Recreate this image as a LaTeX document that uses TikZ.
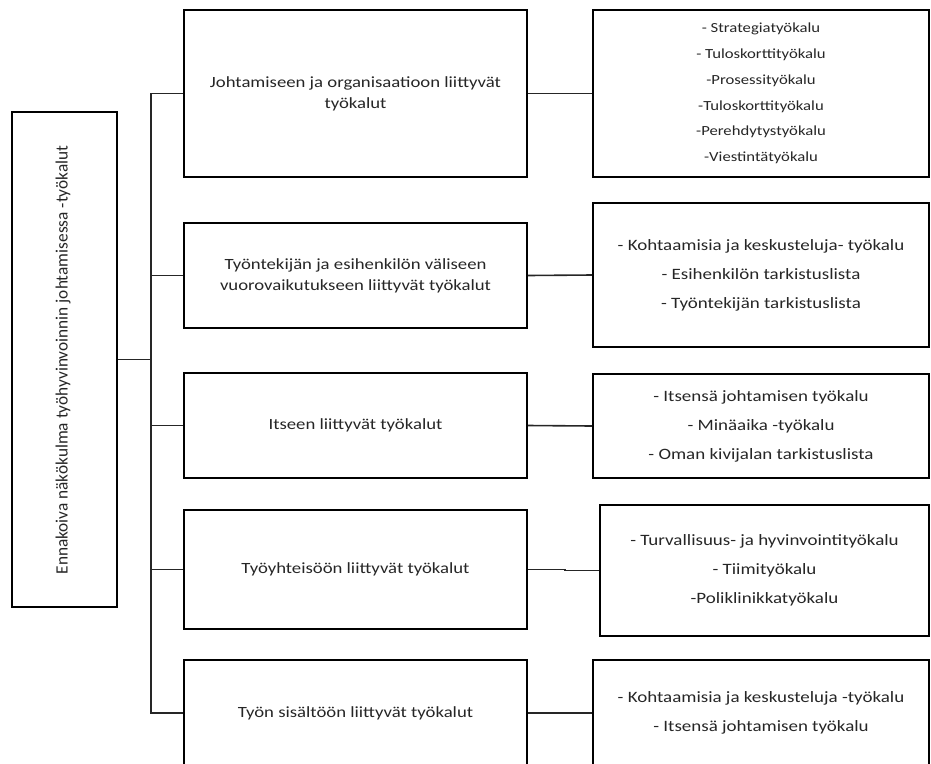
\documentclass[tikz,border=0pt]{standalone}
\usepackage{fontspec}
\setmainfont{Carlito}[FakeStretch=1.2]
\newfontfamily\plainfont{Carlito}
\begin{document}
\begin{tikzpicture}[x=1pt,y=-1pt,
  box/.style={draw=black, line width=1.9pt, rectangle, inner sep=0pt, align=center, text=black!85},
  conn/.style={draw=black!85, line width=1.6pt},
  mainfont/.style={font=\fontsize{15.6}{21}\selectfont},
  listfont/.style={font=\fontsize{15.8}{29}\selectfont},
  smallfont/.style={font=\fontsize{13.9}{25.8}\selectfont}]
\useasboundingbox (0,0) rectangle (931,763);
% left box
\node[box, minimum width=105pt, minimum height=495pt] (L) at (64.5,359.5) {};
\node[rotate=90, text=black!85, font=\plainfont\fontsize{17.3}{20}\selectfont] (Lt) at (63,360) {Ennakoiva näkökulma työhyvinvoinnin johtamisessa -työkalut};
% middle boxes
\node[box, mainfont, minimum width=343pt, minimum height=167pt] (B1) at (355.5,93.5) {Johtamiseen ja organisaatioon liittyvät\\työkalut};
\node[box, mainfont, minimum width=343pt, minimum height=105pt] (B2) at (355.5,275.5) {Työntekijän ja esihenkilön väliseen\\vuorovaikutukseen liittyvät työkalut};
\node[box, mainfont, minimum width=343pt, minimum height=105pt] (B3) at (355.5,425.5) {Itseen liittyvät työkalut};
\node[box, mainfont, minimum width=343pt, minimum height=119pt] (B4) at (355.5,569.5) {Työyhteisöön liittyvät työkalut};
\node[box, mainfont, minimum width=343pt, minimum height=106pt] (B5) at (355.5,713) {Työn sisältöön liittyvät työkalut};
% right boxes
\node[box, smallfont, minimum width=336pt, minimum height=167pt] (R1) at (761,93.5) {- Strategiatyökalu\\- Tuloskorttityökalu\\-Prosessityökalu\\-Tuloskorttityökalu\\-Perehdytystyökalu\\-Viestintätyökalu};
\node[box, listfont, minimum width=336pt, minimum height=144pt] (R2) at (761,275) {- Kohtaamisia ja keskusteluja- työkalu\\- Esihenkilön tarkistuslista\\- Työntekijän tarkistuslista};
\node[box, listfont, minimum width=336pt, minimum height=104pt] (R3) at (761,426) {- Itsensä johtamisen työkalu\\- Minäaika -työkalu\\- Oman kivijalan tarkistuslista};
\node[box, listfont, minimum width=329pt, minimum height=131pt] (R4) at (764.5,570.5) {- Turvallisuus- ja hyvinvointityökalu\\- Tiimityökalu\\-Poliklinikkatyökalu};
\node[box, listfont, minimum width=336pt, minimum height=106pt] (R5) at (761,713) {- Kohtaamisia ja keskusteluja -työkalu\\- Itsensä johtamisen työkalu};
% trunk
\coordinate (tk) at (151,0);
\draw[conn] (L.east) -- (L.east -| tk);
\draw[conn] (B1.west) -- (B1.west -| tk) -- (B5.west -| tk) -- (B5.west);
\draw[conn] (B2.west -| tk) -- (B2.west);
\draw[conn] (B3.west -| tk) -- (B3.west);
\draw[conn] (B4.west -| tk) -- (B4.west);
% right connectors
\draw[conn] (B1.east) -- (R1.west);
\draw[conn] (B2.east) -- (R2.west);
\draw[conn] (B3.east) -- (R3.west);
\draw[conn] (B4.east) -- ++(37,0) |- (R4.west);
\draw[conn] (B5.east) -- (R5.west);
\end{tikzpicture}
\end{document}
